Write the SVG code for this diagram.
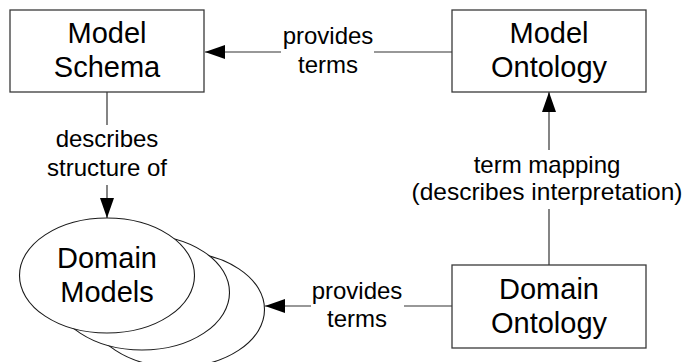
<svg xmlns="http://www.w3.org/2000/svg" width="685" height="362" viewBox="0 0 685 362">
  <style>
    .box { fill: #ffffff; stroke: #3a3a3a; stroke-width: 1.3; }
    .ell { fill: #ffffff; stroke: #1a1a1a; stroke-width: 1.1; }
    .node-text { font-family: "Liberation Sans", Arial, sans-serif; font-size: 29px; fill: #000; text-anchor: middle; }
    .label { font-family: "Liberation Sans", Arial, sans-serif; font-size: 24px; fill: #000; text-anchor: middle; }
    .edge { stroke: #333333; stroke-width: 1.2; fill: none; }
  </style>
  <defs>
    <marker id="arrow" markerUnits="userSpaceOnUse" markerWidth="20" markerHeight="14" refX="20" refY="7" orient="auto">
      <path d="M0,0 L20,7 L0,14 Z" fill="#000"/>
    </marker>
  </defs>
  <rect width="685" height="362" fill="#ffffff"/>

  <g id="connectors">
    <!-- Model Ontology -> Model Schema -->
    <line class="edge" x1="281" y1="52" x2="205" y2="52" marker-end="url(#arrow)"/>
    <line class="edge" x1="374" y1="52" x2="452" y2="52"/>
    <text class="label" x="328" y="44">provides</text>
    <text class="label" x="328" y="73">terms</text>

    <!-- Model Schema -> Domain Models -->
    <line class="edge" x1="107" y1="92" x2="107" y2="125"/>
    <line class="edge" x1="107" y1="185" x2="107" y2="218" marker-end="url(#arrow)"/>
    <text class="label" x="107" y="147">describes</text>
    <text class="label" x="107" y="176">structure of</text>

    <!-- Domain Ontology -> Model Ontology -->
    <line class="edge" x1="549" y1="265" x2="549" y2="209"/>
    <line class="edge" x1="549" y1="150" x2="549" y2="92" marker-end="url(#arrow)"/>
    <text class="label" x="547" y="173">term mapping</text>
    <text class="label" x="547" y="200" textLength="271" lengthAdjust="spacingAndGlyphs">(describes interpretation)</text>

    <!-- Domain Ontology -> Domain Models -->
    <line class="edge" x1="311" y1="306" x2="265" y2="306" marker-end="url(#arrow)"/>
    <line class="edge" x1="404" y1="306" x2="452" y2="306"/>
    <text class="label" x="357" y="299">provides</text>
    <text class="label" x="357" y="327">terms</text>
  </g>

  <g id="model-schema">
    <rect class="box" x="10" y="10" width="194" height="82"/>
    <text class="node-text" x="107" y="43">Model</text>
    <text class="node-text" x="107" y="77">Schema</text>
  </g>

  <g id="model-ontology">
    <rect class="box" x="452" y="10" width="194" height="82"/>
    <text class="node-text" x="549" y="43">Model</text>
    <text class="node-text" x="549" y="77">Ontology</text>
  </g>

  <g id="domain-ontology">
    <rect class="box" x="452" y="265" width="194" height="83"/>
    <text class="node-text" x="549" y="299">Domain</text>
    <text class="node-text" x="549" y="333">Ontology</text>
  </g>

  <g id="domain-models">
    <ellipse class="ell" cx="177" cy="309.5" rx="87.5" ry="57.5"/>
    <ellipse class="ell" cx="142" cy="292.5" rx="87.5" ry="57.5"/>
    <ellipse class="ell" cx="107" cy="275.5" rx="87.5" ry="57.5"/>
    <text class="node-text" x="107" y="268">Domain</text>
    <text class="node-text" x="107" y="302">Models</text>
  </g>
</svg>
